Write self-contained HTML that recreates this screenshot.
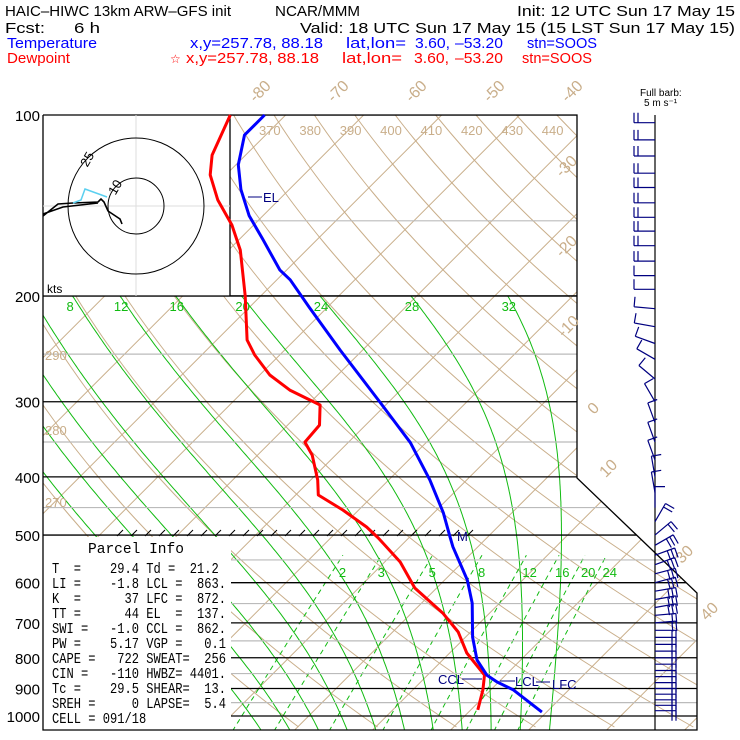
<!DOCTYPE html>
<html><head><meta charset="utf-8"><style>
body{margin:0;background:#fff;}
svg{display:block;font-family:"Liberation Sans",sans-serif;}
#parcel text{white-space:pre;}
</style></head><body>
<svg id="c" width="740" height="740" viewBox="0 0 740 740" xmlns="http://www.w3.org/2000/svg">
<rect width="740" height="740" fill="#fff"/>
<defs><clipPath id="clip"><polygon points="43,115 577,115 577,478 697,593 697,730 43,730"/></clipPath></defs>
<g id="bg" clip-path="url(#clip)"></g>
<rect x="43" y="115" width="187" height="181" fill="#fff"/>
<rect x="43" y="537" width="188" height="193" fill="#fff"/>
<g id="fg"></g>
<g font-size="15" fill="#000">
<text x="5" y="16" textLength="226" lengthAdjust="spacingAndGlyphs">HAIC–HIWC 13km ARW–GFS init</text>
<text x="275" y="16" textLength="85" lengthAdjust="spacingAndGlyphs">NCAR/MMM</text>
<text x="517" y="16" textLength="218" lengthAdjust="spacingAndGlyphs">Init: 12 UTC Sun 17 May 15</text>
<text x="5" y="33" textLength="40" lengthAdjust="spacingAndGlyphs">Fcst:</text>
<text x="74" y="33" textLength="26" lengthAdjust="spacingAndGlyphs">6 h</text>
<text x="300" y="33" textLength="435" lengthAdjust="spacingAndGlyphs">Valid: 18 UTC Sun 17 May 15 (15 LST Sun 17 May 15)</text>
<g fill="#00f">
<text x="7" y="48" textLength="90" lengthAdjust="spacingAndGlyphs">Temperature</text>
<text x="190" y="48" textLength="133" lengthAdjust="spacingAndGlyphs">x,y=257.78, 88.18</text>
<text x="346" y="48" textLength="60" lengthAdjust="spacingAndGlyphs">lat,lon=</text>
<text x="415" y="48" textLength="35" lengthAdjust="spacingAndGlyphs">3.60,</text>
<text x="455" y="48" textLength="48" lengthAdjust="spacingAndGlyphs">–53.20</text>
<text x="527" y="48" textLength="70" lengthAdjust="spacingAndGlyphs">stn=SOOS</text>
</g>
<g fill="#f00">
<text x="7" y="63" textLength="63" lengthAdjust="spacingAndGlyphs">Dewpoint</text>
<text x="170" y="63" font-size="12">☆</text>
<text x="186" y="63" textLength="133" lengthAdjust="spacingAndGlyphs">x,y=257.78, 88.18</text>
<text x="342" y="63" textLength="60" lengthAdjust="spacingAndGlyphs">lat,lon=</text>
<text x="414" y="63" textLength="35" lengthAdjust="spacingAndGlyphs">3.60,</text>
<text x="455" y="63" textLength="48" lengthAdjust="spacingAndGlyphs">–53.20</text>
<text x="522" y="63" textLength="70" lengthAdjust="spacingAndGlyphs">stn=SOOS</text>
</g>
<text x="640" y="96" font-size="10">Full barb:</text>
<text x="644" y="106" font-size="10">5 m s⁻¹</text>
</g>
<g id="parcel" font-size="15" font-family="Liberation Mono, monospace">
<text x="88" y="553" textLength="96" lengthAdjust="spacingAndGlyphs">Parcel Info</text>
</g>
</svg>
<script>
// ---- data ----
const tempP=[100,108,121,133,147,161,181,188,209,246,301,351,405,459,504,523,594,649,739,807,855,878,905,985];
const tempT=[-82.7,-82.7,-79.7,-76.2,-71.8,-67.0,-60.9,-58.3,-52.3,-42.9,-31.0,-22.0,-14.7,-8.8,-4.8,-3.2,2.9,6.5,10.9,14.4,17.6,19.8,22.9,29.4];
const dewP=[100,116.6,125.8,138.5,152.4,167.8,200,236.8,250.8,270.8,286.9,303.8,328.1,350.1,368,404.9,428.9,454.3,484.8,505.6,554.4,612.4,674.2,724.9,785.6,854.9,905,977];
const dewT=[-87.1,-84.3,-82.0,-77.8,-72.8,-68.5,-62.0,-56.1,-53.2,-48.7,-44.2,-38.4,-35.9,-35.6,-33.0,-29.1,-27.1,-22.0,-16.8,-13.9,-8.0,-2.8,4.0,8.4,12.2,17.3,19.0,20.9];
const pressureTicks=[100,200,300,400,500,600,700,800,900,1000];
const pressureMinor=[150,250,350,450,550,650,750,850,950];
const isoLabels=[-80,-70,-60,-50,-40,-30,-20,-10,0,10,30,40];
const thetaLabels=[370,380,390,400,410,420,430,440];
const thetaLeftLabels=[290,280,270];
const moistLabels=[8,12,16,20,24,28,32];
const moistLines=[-8,-4,0,4,8,12,16,20,24,28,32];
const mixRatios=[2,3,5,8,12,16,20,24];
const parcelRows=["T  =    29.4 Td =  21.2","LI =    -1.8 LCL =  863.","K  =      37 LFC =  872.","TT =      44 EL  =  137.","SWI =   -1.0 CCL =  862.","PW =    5.17 VGP =   0.1","CAPE =   722 SWEAT=  256","CIN =   -110 HWBZ= 4401.","Tc =    29.5 SHEAR=  13.","SREH =     0 LAPSE=  5.4","CELL = 091/18"];
const barbP=[103,110,117,125,132,140,148,156,165,175,185,195,210,225,240,255,275,300,325,350,375,400,425,450,475,500,520,540,560,580,600,620,640,660,680,700,720,740,760,780,800,820,840,860,880,900,920,940,960,980];
const barbDir=[180,180,180,180,180,180,180,180,180,180,180,180,175,170,160,150,140,120,110,110,110,100,100,90,60,40,30,20,20,15,15,10,10,10,5,5,0,0,0,0,0,0,0,0,0,0,0,0,0,0];
const barbFeathers=[2,2,2,2,2,2,2,2,2,2,1,1,1,1,1,1,1,1,1,1,1,1,1,1,2,2,3,3,3,3,3,3,3,3,2,2,2,2,2,2,2,2,2,2,2,2,2,2,2,2];
// ---- axes ----
const yP=p=>115+601*Math.log10(p/100);
const xT=(T,y)=>542+7.8*(T-29.4)-(y-712);
const pFromY=y=>100*Math.pow(10,(y-115)/601);
const NS='http://www.w3.org/2000/svg';
const bg=document.getElementById('bg'),fg=document.getElementById('fg');
function mk(tag,attrs,parent){const e=document.createElementNS(NS,tag);for(const k in attrs)e.setAttribute(k,attrs[k]);(parent||fg).appendChild(e);return e;}
function pathFrom(pts){return pts.map((q,i)=>(i?'L':'M')+q[0].toFixed(1)+','+q[1].toFixed(1)).join('');}
const TAN='#c9ae8a',GRN='#11bb11',NAVY='#000080';
// parcel rows
const pg=document.getElementById('parcel');
parcelRows.forEach((r,i)=>{
  const t=mk('text',{x:52,y:573+i*15,textLength:(r.length*7.25).toFixed(1),lengthAdjust:'spacingAndGlyphs'},pg);
  t.textContent=r;
  
  
});
// isotherms
for(let T=-130;T<=60;T+=10){
  const l=mk('line',{x1:xT(T,730),y1:730,x2:xT(T,92),y2:92,stroke:TAN,'stroke-width':1},bg);
  
  
}
// dry adiabats
for(let th=250;th<=460;th+=10){
  const pts=[];
  for(let y=115;y<=730;y+=6){const p=pFromY(y);const T=th*Math.pow(p/1000,0.2857)-273.15;pts.push([xT(T,y),y]);}
  const e=mk('path',{d:pathFrom(pts),fill:'none',stroke:TAN,'stroke-width':1},bg);
  
  
}
// moist adiabats
function es(T){return 6.112*Math.exp(17.67*T/(T+243.5));}
function moist(tw0){
  const tw=tw0-(tw0-8)*0.04;
  const Rd=287,cp=1004,Lv=2.5e6,eps=0.622;
  function dT(T,p){const Tk=T+273.15;const rs=eps*es(T)/(p-es(T));return (Rd*Tk+Lv*rs)/(cp+Lv*Lv*rs*eps/(Rd*Tk*Tk));}
  const pts=[];const h=0.01;
  let T=tw,p=1000;while(p<1060){T+=dT(T,p)*h;p*=Math.exp(h);}
  while(p>200){pts.push([xT(T,yP(p)),yP(p)]);T-=dT(T,p)*h;p*=Math.exp(-h);}
  pts.push([xT(T,yP(200)),yP(200)]);
  return pts;
}
moistLines.forEach(tw=>{
  const e=mk('path',{d:pathFrom(moist(tw)),fill:'none',stroke:GRN,'stroke-width':1},bg);
  
  
});
// mixing ratio lines
function tdFromW(w,p){const e=w*p/(622+w);const a=Math.log(e/6.112);return 243.5*a/(17.67-a);}
mixRatios.forEach(w=>{
  const pts=[];for(let p=1060;p>=540;p-=10){const y=yP(p);pts.push([xT(tdFromW(w,p),y),y]);}
  const e=mk('path',{d:pathFrom(pts),fill:'none',stroke:GRN,'stroke-width':1,'stroke-dasharray':'5,4'},bg);
  
  
  const t=mk('text',{x:xT(tdFromW(w,540),yP(540))-4,y:yP(540)+22,fill:GRN,'font-size':13},fg);t.textContent=w;
  
  
});
// pressure lines
pressureMinor.forEach(p=>{
  const e=mk('line',{x1:43,x2:700,y1:yP(p),y2:yP(p),stroke:'#bbb','stroke-width':1.2},bg);
  
  
});
pressureTicks.forEach(p=>{
  const y=yP(p);
  const e=mk('line',{x1:p>500?231:43,x2:700,y1:y,y2:y,stroke:'#000','stroke-width':1.3},bg);
  
  
  const t=mk('text',{x:40,y:y+6,'text-anchor':'end','font-size':15,fill:'#000'},fg);t.textContent=p;
  
  
});
// border
const bd=mk('polyline',{points:'43,115 577,115 577,478 697,593 697,730 43,730 43,115',fill:'none',stroke:'#000','stroke-width':1.3},fg);


const hb=mk('path',{d:'M230,115V296M43,296H577',stroke:'#000','stroke-width':1.3,fill:'none'},fg);


// isotherm labels
const isoPos={'-30':[570,170],'-20':[570,250],'-10':[572,330],'0':[597,412],'10':[612,472],'30':[688,558],'40':[713,615]};
isoLabels.forEach(T=>{
  let x,y;
  if(T<=-40){y=95;x=xT(T,115)-22;}else{x=isoPos[T][0];y=isoPos[T][1];}
  const t=mk('text',{x:x,y:y,fill:TAN,'font-size':16,'text-anchor':'middle',transform:`rotate(-45 ${x} ${y})`},fg);t.textContent=T;
  
  
});
thetaLabels.forEach(th=>{
  const T=th*Math.pow(0.1,0.2857)-273.15;const x=xT(T,122)-8;
  const t=mk('text',{x:x,y:135,fill:TAN,'font-size':13},fg);t.textContent=th;
  
  
});
thetaLeftLabels.forEach((th,i)=>{
  const t=mk('text',{x:45,y:[360,435,507][i],fill:TAN,'font-size':13},fg);t.textContent=th;
  
  
});
moistLabels.forEach(tw=>{
  const m=moist(tw);const q=m[m.length-1];
  const t=mk('text',{x:q[0]-6,y:311,fill:GRN,'font-size':13},fg);t.textContent=tw;
  
  
});
// hatch ticks on 500
let hd='';for(let x=117;x<480;x+=14){hd+=`M${x},536l6,-6`;}
const hk=mk('path',{d:hd,stroke:'#000','stroke-width':1,fill:'none'},fg);


// hodograph
const hg=mk('g',{},fg);


mk('path',{d:'M43,206H230M136,115V296',stroke:'#ddd','stroke-width':1},hg);
mk('circle',{cx:136,cy:206,r:28,fill:'none',stroke:'#000','stroke-width':1},hg);
mk('circle',{cx:136,cy:206,r:68,fill:'none',stroke:'#000','stroke-width':1},hg);
mk('path',{d:'M43,216L58,204L73,203L98,202L101,199L104,202L108,211L120,219L122,224M43,214L63,207L98,203',stroke:'#000','stroke-width':1.6,fill:'none'},hg);
mk('path',{d:'M73,203L81,200L85,189L107,197',stroke:'#5bd0f0','stroke-width':1.5,fill:'none'},hg);
let t1=mk('text',{x:108,y:193,'font-size':13,transform:'rotate(-60 114 188)'},hg);t1.textContent='10';
let t2=mk('text',{x:80,y:165,'font-size':13,transform:'rotate(-60 86 160)'},hg);t2.textContent='25';
let t3=mk('text',{x:47,y:293,'font-size':12},hg);t3.textContent='kts';
// profiles
function profile(P,T,color,name){
  const pts=P.map((p,i)=>[xT(T[i],yP(p)),yP(p)]);
  const e=mk('path',{d:pathFrom(pts),fill:'none',stroke:color,'stroke-width':3,'stroke-linejoin':'round'},fg);
  
  
}
profile(dewP,dewT,'#f00','dewpoint-line');
profile(tempP,tempT,'#00f','temperature-line');
// annotations
const an=mk('g',{fill:NAVY,'font-size':13},fg);


mk('path',{d:'M248,197H262M462,679H482M500,681H515M536,682H550',stroke:NAVY,'stroke-width':1},an);
[['EL',263,202],['CCL',438,684],['LCL',515,686],['LFC',552,689],['M',457,541]].forEach(a=>{const t=mk('text',{x:a[1],y:a[2]},an);t.textContent=a[0];});
// wind barbs
const wb=mk('g',{stroke:NAVY,'stroke-width':1.2,fill:'none'},fg);


mk('line',{x1:655,y1:115,x2:655,y2:730,stroke:'#000'},wb);
barbP.forEach((p,i)=>{
  const y=yP(p);const a=barbDir[i]*Math.PI/180;
  const ux=Math.cos(a),uy=-Math.sin(a);
  const ex=655+ux*21,ey=y+uy*21;let d=`M655,${y.toFixed(1)}L${ex.toFixed(1)},${ey.toFixed(1)}`;
  let px=-uy,py=ux;
  if(ux<0){ if(py>0){px=-px;py=-py;} } else { if(py<0){px=-px;py=-py;} }
  for(let k=0;k<barbFeathers[i];k++){const fx=ex-ux*4*k,fy=ey-uy*4*k;d+=`M${fx.toFixed(1)},${fy.toFixed(1)}l${(px*10).toFixed(1)},${(py*10).toFixed(1)}`;}
  const b=mk('path',{d:d},wb);
  
  
});
</script>
</body></html>
